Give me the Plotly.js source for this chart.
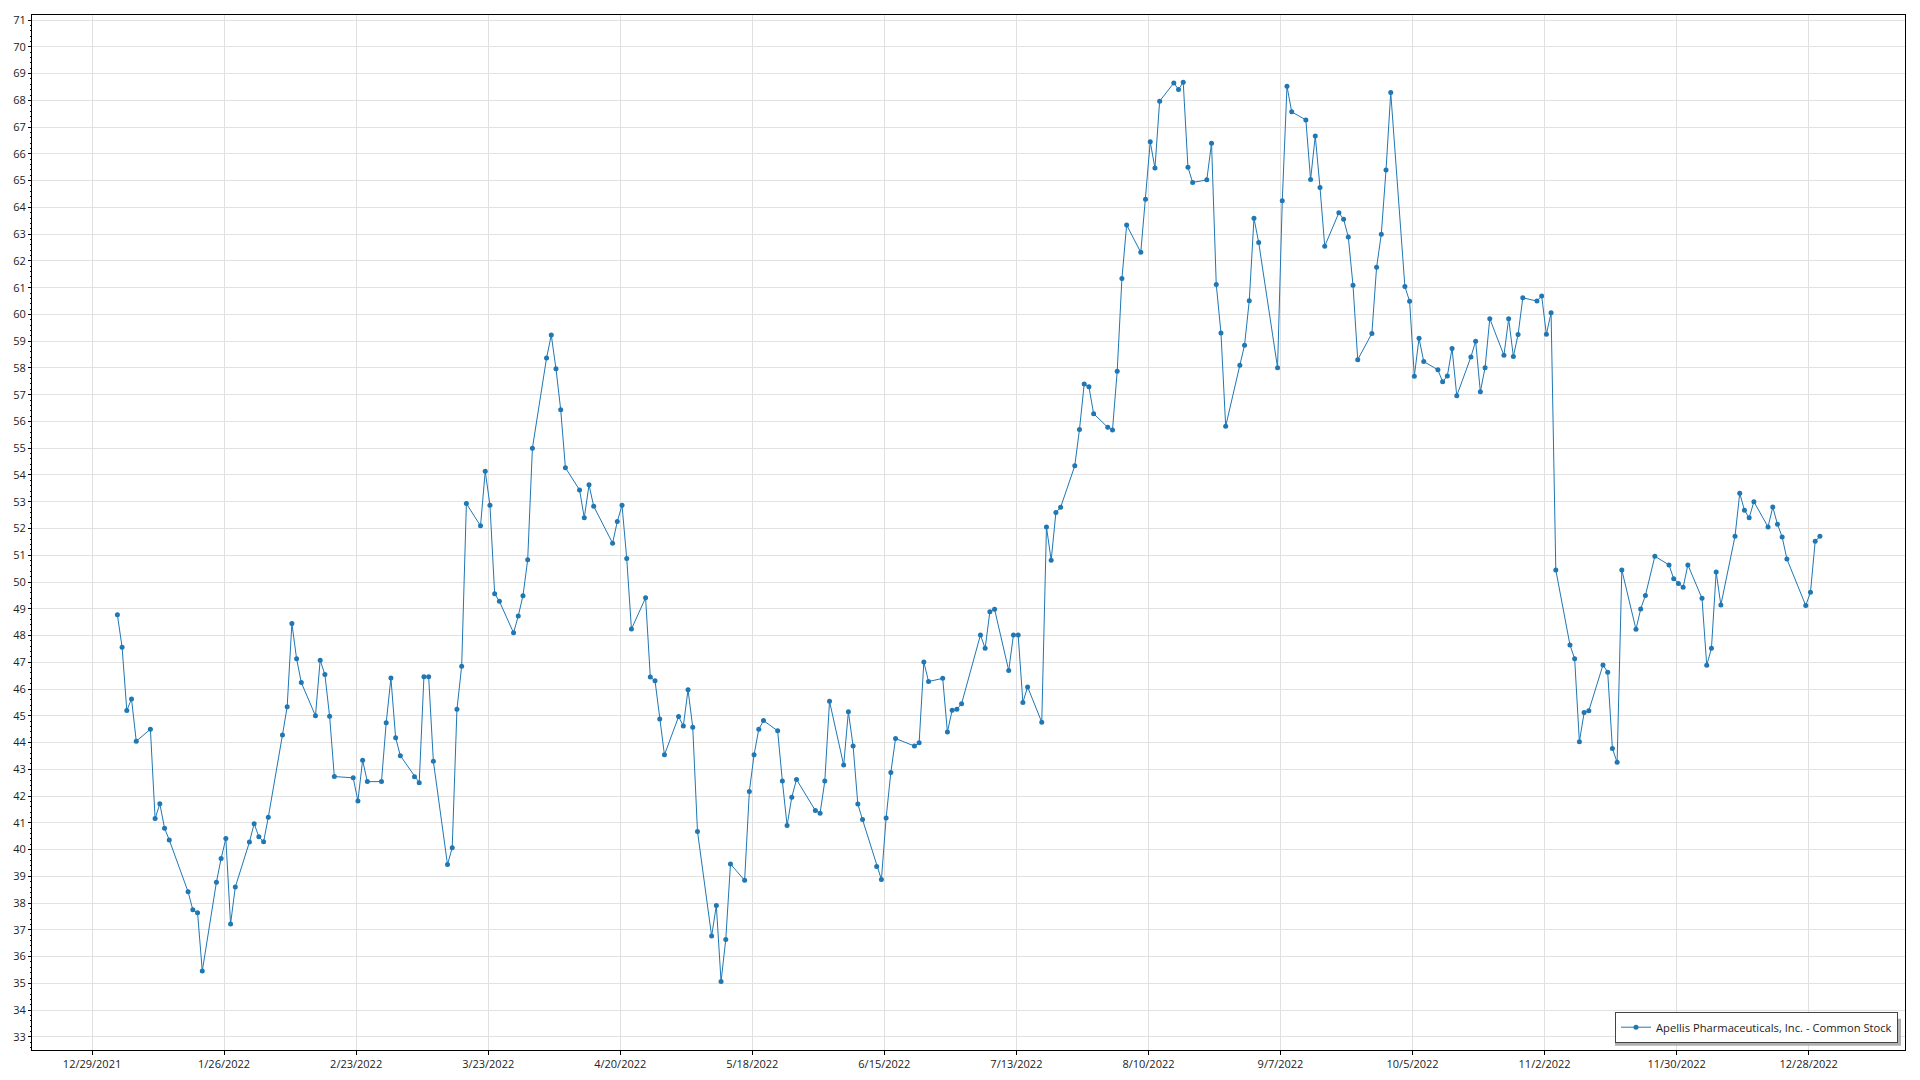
<!DOCTYPE html>
<html>
<head>
<meta charset="utf-8">
<script src="https://cdn.plot.ly/plotly-3.0.1.min.js"></script>
<style>
html,body{margin:0;padding:0;background:#ffffff;}
#chart{width:1920px;height:1080px;}
</style>
</head>
<body>
<div id="chart"></div>
<script>
// ---- Data (trading days of 2022) ----
const seriesName = "Apellis Pharmaceuticals, Inc. - Common Stock";
const sampleTime = "09:00";   // time of day stamped on each daily value

const janDays = [3,4,5,6,7,10,11,12,13,14,18,19,20,21,24,25,26,27,28,31];
const janVals = [48.78,47.56,45.20,45.63,44.05,44.50,41.16,41.71,40.80,40.36,38.42,37.75,37.64,35.46,38.78,39.67,40.41,37.22,38.60,40.28];

const febDays = [1,2,3,4,7,8,9,10,11,14,15,16,17,18,22,23,24,25,28];
const febVals = [40.97,40.48,40.29,41.21,44.28,45.34,48.45,47.13,46.24,45.00,47.08,46.54,44.98,42.73,42.68,41.82,43.34,42.54,42.54];

const marDays = [1,2,3,4,7,8,9,10,11,14,15,16,17,18,21,22,23,24,25,28,29,30,31];
const marVals = [44.74,46.41,44.18,43.51,42.72,42.50,46.46,46.46,43.30,39.44,40.07,45.24,46.85,52.93,52.10,54.14,52.87,49.56,49.28,48.10,48.73,49.49,50.83];

const aprDays = [1,4,5,6,7,8,11,12,13,14,18,19,20,21,22,25,26,27,28,29];
const aprVals = [55.00,58.37,59.23,57.97,56.44,54.27,53.44,52.40,53.63,52.83,51.45,52.26,52.87,50.88,48.24,49.41,46.45,46.31,44.88,43.54];

const mayDays = [2,3,4,5,6,9,10,11,12,13,16,17,18,19,20,23,24,25,26,27,31];
const mayVals = [44.97,44.62,45.97,44.57,40.68,36.77,37.91,35.07,36.64,39.46,38.85,42.17,43.54,44.50,44.82,44.44,42.56,40.90,41.96,42.62,41.46];

const junDays = [1,2,3,6,7,8,9,10,13,14,15,16,17,21,22,23,24,27,28,29,30];
const junVals = [41.36,42.56,45.54,43.16,45.15,43.87,41.70,41.12,39.37,38.88,41.18,42.88,44.15,43.87,43.99,47.01,46.28,46.40,44.39,45.21,45.24];

const julDays = [1,5,6,7,8,11,12,13,14,15,18,19,20,21,22,25,26,27,28,29];
const julVals = [45.45,48.02,47.52,48.89,48.98,46.69,48.02,48.02,45.50,46.08,44.76,52.06,50.81,52.60,52.79,54.34,55.70,57.40,57.30,56.29];

const augDays = [1,2,3,4,5,8,9,10,11,12,15,16,17,18,19,22,23,24,25,26,29,30,31];
const augVals = [55.78,55.68,57.88,61.34,63.34,62.32,64.30,66.45,65.47,67.97,68.65,68.41,68.68,65.50,64.93,65.03,66.40,61.12,59.31,55.82,58.10,58.85,60.51];

const sepDays = [1,2,6,7,8,9,12,13,14,15,16,19,20,21,22,23,26,27,28,29,30];
const sepVals = [63.59,62.69,58.01,64.25,68.53,67.57,67.27,65.04,66.67,64.74,62.55,63.80,63.56,62.89,61.09,58.31,59.29,61.76,63.00,65.40,68.29];

const octDays = [3,4,5,6,7,10,11,12,13,14,17,18,19,20,21,24,25,26,27,28,31];
const octVals = [61.04,60.49,57.69,59.11,58.24,57.93,57.48,57.70,58.73,56.96,58.41,59.00,57.11,58.01,59.84,58.47,59.84,58.43,59.25,60.62,60.50];

const novDays = [1,2,3,4,7,8,9,10,11,14,15,16,17,18,21,22,23,25,28,29,30];
const novVals = [60.69,59.26,60.06,50.45,47.65,47.13,44.03,45.12,45.19,46.90,46.63,43.78,43.26,50.45,48.23,48.99,49.50,50.96,50.64,50.12,49.94];

const decDays = [1,2,5,6,7,8,9,12,13,14,15,16,19,20,21,22,23,27,28,29,30];
const decVals = [49.80,50.64,49.39,46.89,47.52,50.37,49.14,51.71,53.32,52.68,52.40,53.00,52.06,52.80,52.16,51.68,50.86,49.12,49.62,51.52,51.71];

const xTickStart = "2021-12-29";   // first x tick label 12/29/2021, every 28 days
const xTickStepDays = 28;
const yTickStep = 1;

// ---- build series ----
const monthDays = [janDays,febDays,marDays,aprDays,mayDays,junDays,julDays,augDays,sepDays,octDays,novDays,decDays];
const monthVals = [janVals,febVals,marVals,aprVals,mayVals,junVals,julVals,augVals,sepVals,octVals,novVals,decVals];
const xs = [], ys = [];
const pad = n => (n < 10 ? "0" : "") + n;
monthDays.forEach((days, m) => {
  days.forEach((d, i) => {
    xs.push("2022-" + pad(m + 1) + "-" + pad(d) + " " + sampleTime);
    ys.push(monthVals[m][i]);
  });
});

const blue = "#1f77b4";
const fontFam = "'Segoe UI', 'Open Sans', 'Noto Sans', sans-serif";

const trace = {
  type: "scatter",
  mode: "lines+markers",
  name: seriesName,
  x: xs,
  y: ys,
  line: {color: blue, width: 1},
  marker: {color: blue, size: 5},
  showlegend: true,
  hoverinfo: "skip"
};

// geometry of plot area (px) for the legend shadow decoration
const W = 1920, H = 1080;
const mL = 32, mR = 15, mT = 15, mB = 30;
const pw = W - mL - mR, ph = H - mT - mB;
const legRight = 1898, legBottom = 1042.7, legLeft = 1612, legTop = 1015.7, sh = 3;
const px2x = p => (p - mL) / pw;
const px2y = p => (H - mB - p) / ph;

const layout = {
  width: W,
  height: H,
  margin: {l: mL, r: mR, t: mT, b: mB, pad: 0},
  paper_bgcolor: "#ffffff",
  plot_bgcolor: "#ffffff",
  font: {family: fontFam, size: 11, color: "#222222"},
  showlegend: true,
  hovermode: false,
  xaxis: {
    type: "date",
    range: ["2021-12-16 06:30", "2023-01-17 10:00"],
    tickmode: "linear",
    tick0: xTickStart,
    dtick: xTickStepDays * 86400000,
    tickformat: "%-m/%-d/%Y",
    ticks: "outside",
    ticklen: 4,
    tickcolor: "#000000",
    showgrid: true,
    gridcolor: "#e0e0e0",
    gridwidth: 1,
    zeroline: false,
    showline: true,
    linecolor: "#000000",
    linewidth: 1,
    mirror: true,
    tickfont: {family: fontFam, size: 11, color: "#222222"},
    fixedrange: true
  },
  yaxis: {
    range: [32.51, 71.19],
    tickmode: "linear",
    tick0: 0,
    dtick: yTickStep,
    ticks: "outside",
    ticklen: 3,
    tickcolor: "#000000",
    showgrid: true,
    gridcolor: "#e2e2e2",
    gridwidth: 1,
    zeroline: false,
    showline: true,
    linecolor: "#000000",
    linewidth: 1,
    mirror: true,
    tickfont: {family: fontFam, size: 11, color: "#222222"},
    minor: {dtick: 0.2, ticks: "outside", ticklen: 1.5, tickcolor: "#000000", showgrid: false},
    fixedrange: true
  },
  legend: {
    x: px2x(legRight),
    y: px2y(legBottom),
    xanchor: "right",
    yanchor: "bottom",
    bgcolor: "#ffffff",
    bordercolor: "#444444",
    borderwidth: 1,
    font: {family: fontFam, size: 11.2, color: "#222222"}
  },
  shapes: [{
    type: "rect",
    xref: "paper", yref: "paper",
    x0: px2x(legLeft + sh), x1: px2x(legRight + sh),
    y0: px2y(legBottom + sh), y1: px2y(legTop + sh),
    fillcolor: "#b0b0b0",
    line: {width: 0},
    layer: "above"
  }]
};

Plotly.newPlot("chart", [trace], layout, {displayModeBar: false, staticPlot: true});
</script>
</body>
</html>
